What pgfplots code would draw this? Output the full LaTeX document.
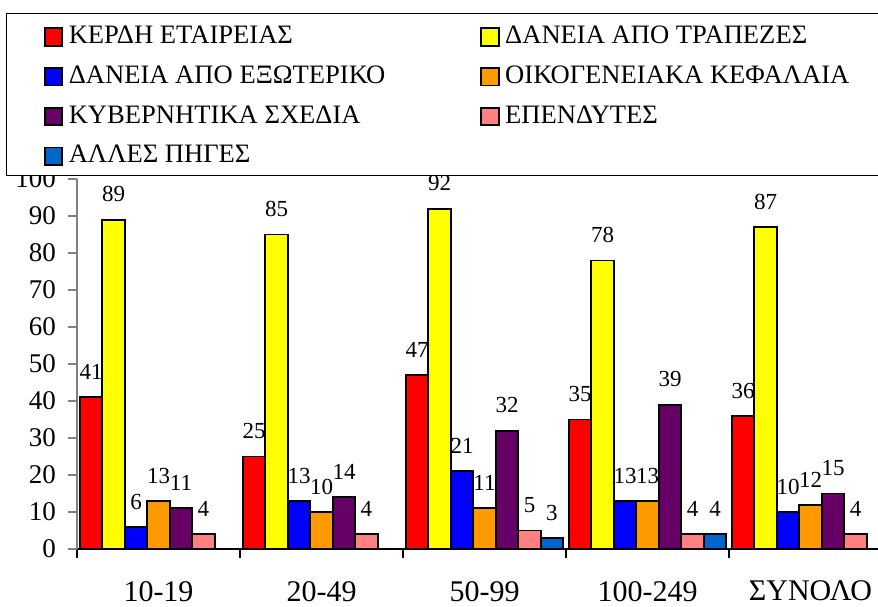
\documentclass[border=0pt]{standalone}
\usepackage{fontspec}
\setmainfont{Liberation Serif}
\newfontfamily\lgfont{Liberation Serif}
\usepackage{pgfplots}
\pgfplotsset{compat=1.18}

\definecolor{cRed}{RGB}{255,0,0}
\definecolor{cYel}{RGB}{255,255,0}
\definecolor{cBlu}{RGB}{0,0,255}
\definecolor{cOra}{RGB}{255,153,0}
\definecolor{cPur}{RGB}{102,0,102}
\definecolor{cPnk}{RGB}{255,128,128}
\definecolor{cSky}{RGB}{0,102,204}

% legend text with fixed width and strut
\newcommand{\lent}[1]{\makebox[203pt][l]{\lgfont\rule[-2pt]{0pt}{13.1pt}#1}}

\begin{document}
\begin{tikzpicture}
\begin{axis}[
  at={(0,0)}, anchor=south west,
  scale only axis, width=400.5pt, height=185pt,
  xmin=-0.5, xmax=4.414, ymin=0, ymax=100,
  ybar, bar width=0.138,
  axis x line*=bottom, axis y line*=left,
  x axis line style={black, line width=0.6pt, -},
  y axis line style={gray, line width=0.6pt, -},
  tick align=outside, major tick length=4.5pt,
  xtick={-0.5,0.5,...,4.5}, xticklabels={,,,,,,},
  xtick style={black, line width=0.6pt},
  extra x ticks={0,1,2,3,4},
  extra x tick labels={10-19,20-49,50-99,100-249,ΣΥΝΟΛΟ},
  extra x tick style={major tick length=0pt,
    xticklabel style={font=\fontsize{15}{16}\selectfont, yshift=-12.5pt}},
  ytick={0,10,...,100},
  ytick style={gray, line width=0.6pt},
  yticklabel style={font=\fontsize{13.5}{14}\selectfont, xshift=-2.5pt},
  /pgf/number format/assume math mode=true,
  nodes near coords,
  every node near coord/.append style={text=black,
    font=\fontsize{11.5}{12}\selectfont, yshift=5pt},
  legend columns=2, legend cell align=left,
  legend image code/.code={
    \path (0pt,6pt) (0pt,-6pt);
    \draw[#1, draw=black, line width=0.9pt] (0pt,-5.6pt) rectangle (8.7pt,3.1pt);
  },
  legend style={at={(-0.0874,1.4486)}, anchor=north west,
    draw=black, line width=0.5pt, fill=white, outer sep=0pt,
    inner xsep=18.5pt, inner ysep=4.2pt, column sep=2.8pt, row sep=6.75pt,
    font=\fontsize{13.3}{14}\selectfont,
    nodes={inner sep=0pt, text depth=2pt}},
]
\addplot[fill=cRed, draw=black, line width=0.9pt, bar shift=-0.414]
  coordinates {(0,41) (1,25) (2,47) (3,35) (4,36)};
\addlegendentry{\lent{ΚΕΡΔΗ ΕΤΑΙΡΕΙΑΣ}}
\addplot[fill=cYel, draw=black, line width=0.9pt, bar shift=-0.276]
  coordinates {(0,89) (1,85) (2,92) (3,78) (4,87)};
\addlegendentry{\lent{ΔΑΝΕΙΑ ΑΠΟ ΤΡΑΠΕΖΕΣ}}
\addplot[fill=cBlu, draw=black, line width=0.9pt, bar shift=-0.138]
  coordinates {(0,6) (1,13) (2,21) (3,13) (4,10)};
\addlegendentry{\lent{ΔΑΝΕΙΑ ΑΠΟ ΕΞΩΤΕΡΙΚΟ}}
\addplot[fill=cOra, draw=black, line width=0.9pt, bar shift=0]
  coordinates {(0,13) (1,10) (2,11) (3,13) (4,12)};
\addlegendentry{\lent{ΟΙΚΟΓΕΝΕΙΑΚΑ ΚΕΦΑΛΑΙΑ}}
\addplot[fill=cPur, draw=black, line width=0.9pt, bar shift=0.138]
  coordinates {(0,11) (1,14) (2,32) (3,39) (4,15)};
\addlegendentry{\lent{ΚΥΒΕΡΝΗΤΙΚΑ ΣΧΕΔΙΑ}}
\addplot[fill=cPnk, draw=black, line width=0.9pt, bar shift=0.276]
  coordinates {(0,4) (1,4) (2,5) (3,4) (4,4)};
\addlegendentry{\lent{ΕΠΕΝΔΥΤΕΣ}}
\addplot[fill=cSky, draw=black, line width=0.9pt, bar shift=0.414]
  coordinates {(2,3) (3,4)};
\addlegendentry{\lent{ΑΛΛΕΣ ΠΗΓΕΣ}}
\end{axis}
\pgfresetboundingbox
\path[use as bounding box] (-38.5pt,-28.5pt) rectangle (400.5pt,274.5pt);
\end{tikzpicture}
\end{document}
